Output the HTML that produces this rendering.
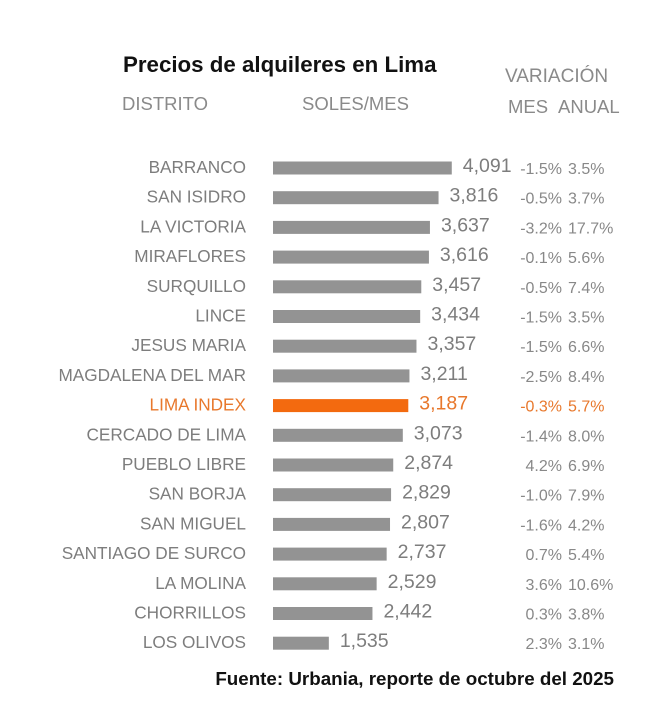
<!DOCTYPE html>
<html><head><meta charset="utf-8"><style>
html,body{margin:0;padding:0;background:#fff}
svg{display:block}
text{font-family:"Liberation Sans",sans-serif}
</style></head><body>
<svg id="chart" width="660" height="711">
<text x="123" y="72" font-size="22.3" font-weight="bold" fill="#111">Precios de alquileres en Lima</text>
<text x="505" y="82" font-size="19" fill="#8a8a8a">VARIACIÓN</text>
<text x="122" y="110" font-size="18.5" fill="#8a8a8a">DISTRITO</text>
<text x="302" y="110" font-size="18.5" fill="#8a8a8a">SOLES/MES</text>
<text x="508" y="113" font-size="18.5" fill="#8a8a8a">MES</text>
<text x="558" y="113" font-size="18.5" fill="#8a8a8a">ANUAL</text>
<g id="rows"></g>
<text x="614" y="685" text-anchor="end" font-size="18.8" font-weight="bold" fill="#111">Fuente: Urbania, reporte de octubre del 2025</text>
</svg>
<script>
const districts=["BARRANCO","SAN ISIDRO","LA VICTORIA","MIRAFLORES","SURQUILLO","LINCE","JESUS MARIA","MAGDALENA DEL MAR","LIMA INDEX","CERCADO DE LIMA","PUEBLO LIBRE","SAN BORJA","SAN MIGUEL","SANTIAGO DE SURCO","LA MOLINA","CHORRILLOS","LOS OLIVOS"];
const prices=[4091,3816,3637,3616,3457,3434,3357,3211,3187,3073,2874,2829,2807,2737,2529,2442,1535];
const monthly=["-1.5%","-0.5%","-3.2%","-0.1%","-0.5%","-1.5%","-1.5%","-2.5%","-0.3%","-1.4%","4.2%","-1.0%","-1.6%","0.7%","3.6%","0.3%","2.3%"];
const annual=["3.5%","3.7%","17.7%","5.6%","7.4%","3.5%","6.6%","8.4%","5.7%","8.0%","6.9%","7.9%","4.2%","5.4%","10.6%","3.8%","3.1%"];
const highlight="LIMA INDEX";
const xs=v=>255+0.0481*v;
const ys=i=>168+i*29.7;
const g=document.getElementById('rows');
const NS="http://www.w3.org/2000/svg";
function mk(tag,attrs,txt){const e=document.createElementNS(NS,tag);for(const k in attrs)e.setAttribute(k,attrs[k]);if(txt!=null)e.textContent=txt;g.appendChild(e);return e;}
districts.forEach((d,i)=>{
  const hi=d===highlight;
  const tc=hi?"#e8782c":"#7d7d7d";
  const y=ys(i);
  const l=mk('text',{x:246,y:y+5,'text-anchor':'end','font-size':17.2,fill:tc},d);
  
  
  const r=mk('rect',{x:273,y:y-6.5,width:xs(prices[i])-273,height:13,fill:hi?"#f36a0f":"#939393"});
  
  
  const v=mk('text',{x:xs(prices[i])+11,y:y+4,'font-size':19.5,fill:tc},prices[i].toLocaleString('en-US'));
  
  
  const m=mk('text',{x:562,y:y+6,'text-anchor':'end','font-size':16,fill:hi?tc:"#888"},monthly[i]);
  
  
  const a=mk('text',{x:568,y:y+6,'font-size':16,fill:hi?tc:"#888"},annual[i]);
  
  
});
</script>
</body></html>
